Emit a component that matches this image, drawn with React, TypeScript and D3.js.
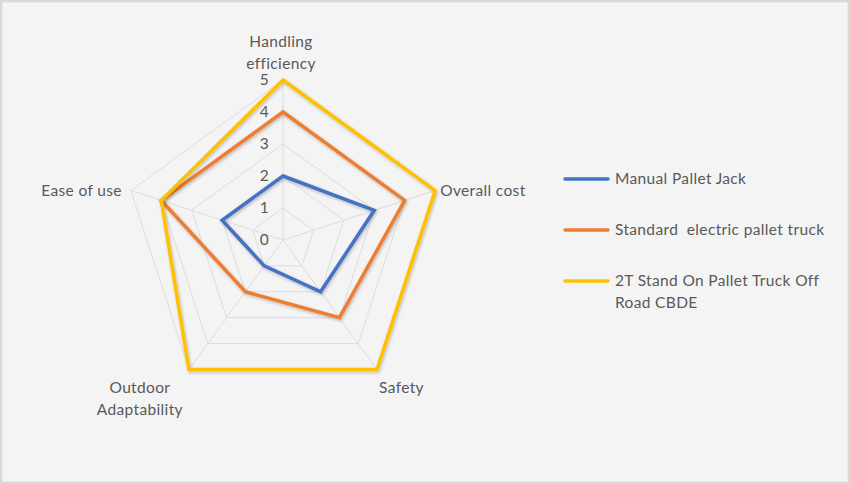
import React, { useRef, useEffect } from 'react';
import * as d3 from 'd3';

const AXES = ['Handling efficiency', 'Overall cost', 'Safety', 'Outdoor Adaptability', 'Ease of use'];
const AXIS_LINES = [['Handling', 'efficiency'], ['Overall cost'], ['Safety'], ['Outdoor', 'Adaptability'], ['Ease of use']];
const SERIES = ['Manual Pallet Jack', 'Standard electric pallet truck', '2T Stand On Pallet Truck Off Road CBDE'];
const LEGEND_LINES = [['Manual Pallet Jack'], ['Standard  electric pallet truck'], ['2T Stand On Pallet Truck Off', 'Road CBDE']];
const MANUAL = [2, 3, 2, 1, 2];
const STANDARD = [4, 4, 3, 2, 4];
const CBDE = [5, 5, 5, 5, 4];
const TICKS = [0, 1, 2, 3, 4, 5];
const COLORS = ['#4472C4', '#ED7D31', '#FFC000'];

const W = 850;
const H = 484;
const FONT = 'Lato, "Open Sans", sans-serif';
const FS = '15.5px';
const LS = '0.35px';
const TEXT = '#595959';

export default function App() {
  const ref = useRef<SVGSVGElement>(null);

  useEffect(() => {
    if (!ref.current) return;
    const svg = d3.select(ref.current);
    svg.selectAll('*').remove();

    const cx = 283;
    const cy = 240;
    const r = d3.scaleLinear().domain([0, 5]).range([0, 160]);
    const angle = d3.scaleLinear().domain([0, AXES.length]).range([0, 2 * Math.PI]);
    const pt = (i: number, v: number): [number, number] => [
      cx + r(v) * Math.sin(angle(i)),
      cy - r(v) * Math.cos(angle(i)),
    ];

    svg.append('rect').attr('x', 1.2).attr('y', 1.2).attr('width', W - 2.4).attr('height', H - 2.4)
      .attr('fill', '#f4f4f4').attr('stroke', '#d9d9d9').attr('stroke-width', 2.4);

    const defs = svg.append('defs');
    const f = defs.append('filter').attr('id', 'shadow').attr('x', '-20%').attr('y', '-20%').attr('width', '140%').attr('height', '140%');
    f.append('feDropShadow').attr('dx', 1).attr('dy', 1.5).attr('stdDeviation', 1.5)
      .attr('flood-color', '#000').attr('flood-opacity', 0.25);

    const g = svg.append('g');
    const idx = d3.range(AXES.length);

    // rings
    TICKS.filter(t => t > 0).forEach(t => {
      g.append('path')
        .attr('d', (d3.line().curve(d3.curveLinearClosed))(idx.map(i => pt(i, t))) as string)
        .attr('fill', 'none').attr('stroke', '#dcdcdc').attr('stroke-width', 1);
    });
    // spokes
    idx.forEach(i => {
      const [x, y] = pt(i, 5);
      g.append('line').attr('x1', cx).attr('y1', cy).attr('x2', x).attr('y2', y)
        .attr('stroke', '#dcdcdc').attr('stroke-width', 1);
    });

    // series
    const radial = d3.lineRadial<number>()
      .angle((_, i) => angle(i))
      .radius(d => r(d))
      .curve(d3.curveLinearClosed);
    [MANUAL, STANDARD, CBDE].forEach((vals, s) => {
      g.append('path')
        .attr('transform', `translate(${cx},${cy})`)
        .attr('d', radial(vals) as string)
        .attr('fill', 'none').attr('stroke', COLORS[s]).attr('stroke-width', 3.5)
        .attr('stroke-linejoin', 'miter')
        .attr('filter', 'url(#shadow)');
    });

    const styleText = (t: d3.Selection<SVGTextElement, unknown, null, undefined>) =>
      t.attr('fill', TEXT).style('font-family', FONT).style('font-size', FS).style('letter-spacing', LS);

    // tick labels
    TICKS.forEach(t => {
      g.append('text').attr('x', cx - 14).attr('y', cy - r(t)).attr('dy', '0.35em')
        .attr('text-anchor', 'end').call(styleText).text(t);
    });

    // axis labels
    const lineH = 22;
    idx.forEach(i => {
      const [vx, vy] = pt(i, 5);
      const lines = AXIS_LINES[i];
      const lg = g.append('g');
      lines.forEach((l, k) => {
        lg.append('text').attr('x', 0).attr('y', k * lineH).attr('dy', '0.35em')
          .attr('text-anchor', 'middle').call(styleText).text(l);
      });
      const bb = (lg.node() as SVGGElement).getBBox();
      const w = bb.width;
      const s = Math.sin(angle(i));
      const c = Math.cos(angle(i));
      let x = vx;
      let y = vy;
      if (Math.abs(s) < 0.1) {
        y = vy - 16 - (lines.length - 1) * lineH;
        x = vx - 2;
      } else if (c > 0) {
        x = s > 0 ? vx + 5 + w / 2 : vx - 9 - w / 2;
        y = vy;
      } else {
        x = s > 0 ? vx + 2 + w / 2 : vx - 6 - w / 2;
        y = vy + 18;
      }
      lg.attr('transform', `translate(${x},${y})`);
    });

    // legend
    const leg = svg.append('g').attr('transform', 'translate(565,179)');
    SERIES.forEach((_, s) => {
      const row = leg.append('g').attr('transform', `translate(0,${s * 51})`);
      row.append('line').attr('x1', 0).attr('x2', 43).attr('y1', 0).attr('y2', 0)
        .attr('stroke', COLORS[s]).attr('stroke-width', 3.5).attr('stroke-linecap', 'round');
      LEGEND_LINES[s].forEach((l, k) => {
        row.append('text').attr('x', 50).attr('y', k * lineH).attr('dy', '0.35em')
          .call(styleText).style('white-space', 'pre').text(l);
      });
    });
  }, []);

  return (
    <div style={{ position: 'absolute', left: 0, top: 0 }}>
      <svg ref={ref} width={W} height={H} style={{ display: 'block' }} />
    </div>
  );
}
